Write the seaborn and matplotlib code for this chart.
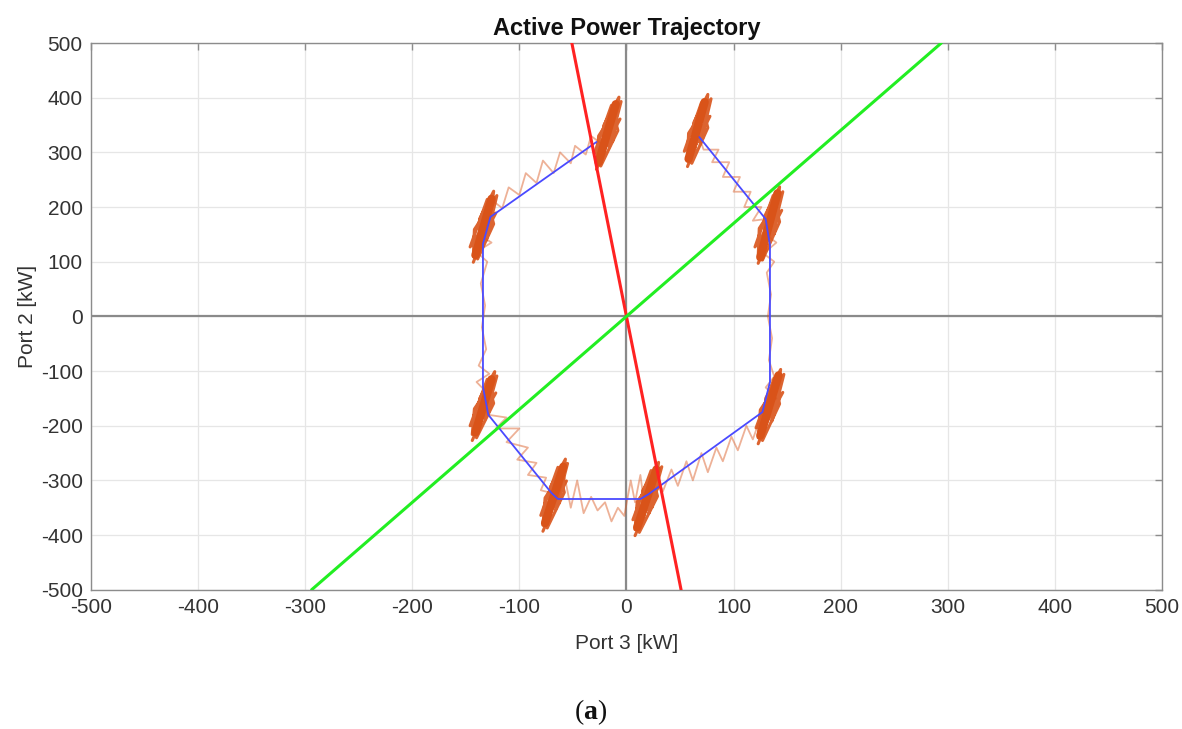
import matplotlib
matplotlib.use("Agg")
import matplotlib.pyplot as plt
import numpy as np
import seaborn as sns

# blue reference trajectory (vertices, kW)
path_x = [-28, -127, -134, -134, -129, -70, -64, 13, 20, 127, 134, 134, 130, 68]
path_y = [319, 182, 133, -129, -180, -323, -334, -334, -326, -175, -120, 130, 178, 328]

# measured trajectory between the switching points (orange, thin)
edge_x = [-25, -33, -38, -48, -52, -62, -68, -78, -84, -94, -100, -110, -116, -124, -128,
          -130, -138, -126, -140, -130, -136, -132, -135, -131, -138, -128, -140, -130, -133,
          -129, -112, -122, -100, -112, -92, -102, -84, -92, -75, -80, -66,
          -64, -58, -52, -46, -40, -33, -27, -20, -14, -8, -2, 4, 8, 13, 16,
          20, 28, 34, 42, 48, 56, 62, 70, 76, 84, 90, 98, 104, 112, 118, 127,
          127, 140, 130, 138, 133, 136, 132, 135, 131, 138, 128, 140, 130, 135,
          130, 118, 126, 110, 116, 100, 106, 90, 96, 80, 86, 72, 68]
edge_y = [318, 330, 296, 312, 280, 300, 262, 285, 244, 262, 222, 236, 198, 210, 180,
          175, 150, 135, 118, 100, 60, 20, -20, -60, -90, -105, -120, -140, -165,
          -180, -185, -205, -205, -230, -240, -262, -268, -290, -295, -318, -325,
          -334, -290, -350, -300, -360, -330, -355, -340, -375, -350, -365, -300, -340, -290, -334,
          -326, -290, -320, -280, -310, -265, -300, -250, -285, -240, -265, -220, -245, -200, -225, -175,
          -170, -150, -130, -110, -80, -40, 0, 40, 80, 100, 115, 135, 150, 176,
          178, 175, 200, 200, 228, 228, 255, 255, 282, 282, 305, 305, 328]

# dense clusters at the switching points: back-and-forth scribble + core stroke
c1_x = [-28, -13, -28, -8, -13, -7, -21, -22, -15, -16, -5, -26, -28, -6, -30, -14, -8, -24]
c1_y = [269, 340, 300, 381, 320, 401, 350, 289, 373, 310, 393, 330, 280, 361, 298, 386, 340, 275]
c2_x = [57, 71, 57, 75, 71, 76, 63, 63, 69, 69, 79, 58, 57, 78, 54, 70, 76, 61]
c2_y = [274, 345, 305, 386, 325, 406, 355, 294, 378, 315, 398, 335, 285, 366, 302, 391, 345, 280]
c3_x = [-143, -129, -143, -125, -129, -124, -137, -137, -131, -131, -121, -142, -143, -122, -146, -130, -124, -139]
c3_y = [99, 169, 130, 209, 150, 229, 179, 119, 201, 139, 221, 159, 110, 189, 127, 214, 169, 105]
c4_x = [123, 138, 123, 142, 138, 143, 129, 129, 136, 135, 146, 124, 123, 145, 120, 137, 143, 127]
c4_y = [97, 173, 130, 215, 151, 237, 183, 119, 207, 140, 228, 161, 109, 194, 127, 221, 173, 103]
c5_x = [-144, -129, -144, -124, -129, -123, -137, -138, -131, -132, -121, -142, -144, -122, -146, -130, -124, -140]
c5_y = [-227, -159, -197, -120, -178, -101, -150, -208, -128, -188, -109, -169, -216, -140, -200, -115, -159, -222]
c6_x = [123, 138, 123, 143, 138, 144, 130, 129, 136, 136, 147, 125, 123, 146, 121, 138, 143, 127]
c6_y = [-233, -160, -201, -118, -180, -97, -150, -212, -126, -191, -106, -171, -222, -139, -204, -113, -160, -227]
c7_x = [-78, -63, -78, -58, -63, -57, -71, -72, -65, -66, -55, -76, -78, -56, -80, -64, -58, -74]
c7_y = [-393, -322, -362, -281, -342, -261, -312, -373, -290, -352, -269, -332, -382, -301, -364, -276, -322, -387]
c8_x = [8, 24, 8, 29, 24, 30, 15, 15, 22, 21, 33, 10, 8, 31, 6, 23, 29, 12]
c8_y = [-401, -329, -369, -288, -349, -267, -319, -380, -296, -360, -275, -339, -390, -308, -372, -282, -329, -395]
clusters = [(c1_x, c1_y), (c2_x, c2_y), (c3_x, c3_y), (c4_x, c4_y),
            (c5_x, c5_y), (c6_x, c6_y), (c7_x, c7_y), (c8_x, c8_y)]

core_x = [[-26, -10], [58, 73], [-141, -126], [125, 141],
          [-141, -126], [125, 142], [-76, -59], [10, 28]]
core_y = [[282, 388], [288, 392], [112, 215], [108, 225],
          [-212, -115], [-218, -108], [-378, -275], [-386, -280]]

# boundary lines through the origin
red_x = [-51, 51]
red_y = [500, -500]
green_x = [-294, 294]
green_y = [-500, 500]

ticks = list(range(-500, 501, 100))

sns.set_theme(style="whitegrid")
plt.rcParams['font.family'] = ['Liberation Sans', 'DejaVu Sans']
plt.rcParams['axes.unicode_minus'] = False
plt.rcParams['mathtext.fontset'] = 'custom'
plt.rcParams['mathtext.bf'] = 'Liberation Serif:bold'

fig = plt.figure(figsize=(11.82, 7.29), dpi=100)
ax = fig.add_axes([0.077, 0.191, 0.906, 0.750])

ax.axhline(0, color='#8a8a8a', lw=1.6, zorder=1)
ax.axvline(0, color='#8a8a8a', lw=1.6, zorder=1)

sns.lineplot(x=edge_x, y=edge_y, sort=False, estimator=None, color='#D95319',
             alpha=0.45, lw=1.3, ax=ax, zorder=2)
for cx, cy in clusters:
    sns.lineplot(x=cx, y=cy, sort=False, estimator=None, color='#D95319',
                 lw=2.2, alpha=0.9, ax=ax, zorder=3)
for kx, ky in zip(core_x, core_y):
    sns.lineplot(x=kx, y=ky, sort=False, estimator=None, color='#D95319',
                 lw=6, solid_capstyle='round', ax=ax, zorder=3)
sns.lineplot(x=path_x, y=path_y, sort=False, estimator=None, color='#4a4aff',
             lw=1.3, ax=ax, zorder=4)
sns.lineplot(x=red_x, y=red_y, sort=False, estimator=None, color='#ff2222',
             lw=2.2, ax=ax, zorder=5)
sns.lineplot(x=green_x, y=green_y, sort=False, estimator=None, color='#22ee22',
             lw=2.2, ax=ax, zorder=5)

ax.set_xlim(-500, 500)
ax.set_ylim(-500, 500)
ax.set_xticks(ticks)
ax.set_yticks(ticks)
ax.grid(True, color='#e6e6e6', lw=0.9)
ax.set_facecolor('white')
for s in ax.spines.values():
    s.set_color('#8c8c8c')
    s.set_linewidth(1.0)
ax.tick_params(direction='in', top=True, right=True, length=5, width=1,
               color='#8c8c8c', labelsize=15, labelcolor='#333333', pad=6)

ax.set_title('Active Power Trajectory', fontsize=17, fontweight='bold',
             color='#111111', pad=6)
ax.set_xlabel('Port 3 [kW]', fontsize=15, color='#333333', labelpad=12)
ax.set_ylabel('Port 2 [kW]', fontsize=15, color='#333333', labelpad=3)

fig.text(0.5, 0.003, r'($\mathbf{a}$)', ha='center', va='bottom', fontsize=20,
         family=['Liberation Serif', 'DejaVu Serif'], color='#111111')

fig.savefig('out.png', dpi=100)
